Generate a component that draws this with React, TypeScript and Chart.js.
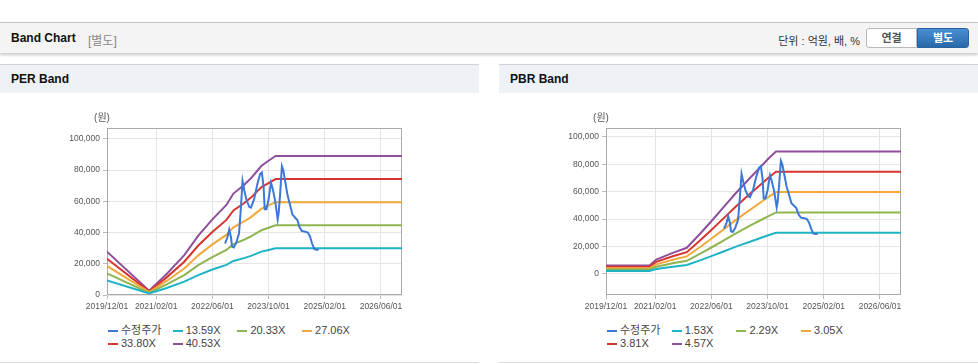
import React, { useEffect, useRef } from 'react';
import { Chart, registerables } from 'chart.js';

Chart.register(...registerables);

// ---- axis ticks (x = months since 2019/12) ----
const xTickMonths = [0, 14, 30, 46, 62, 78];
const xTickLabels = ['2019/12/01', '2021/02/01', '2022/06/01', '2023/10/01', '2025/02/01', '2026/06/01'];
const yTickValues = [0, 20000, 40000, 60000, 80000, 100000];

// ---- 수정주가 (adjusted price) ----
const priceMonths = [33.6, 34.3, 34.8, 35.3, 35.6, 36.1, 36.8, 37.6, 38.1, 38.6, 39.1, 39.7, 40.5, 41.0, 41.9, 42.8, 43.6, 44.1, 44.6, 44.9, 45.4, 46.0, 46.7, 47.2, 47.9, 48.6, 48.9, 49.3, 49.8, 50.2, 50.8, 51.4, 52.2, 52.8, 53.6, 54.2, 54.8, 55.5, 56.5, 57.2, 57.8, 58.4, 59.0, 59.6, 60.3];
const priceValues = [33000, 37000, 42000, 37000, 31000, 30500, 33500, 39500, 55000, 73000, 67000, 61000, 56500, 56000, 61500, 71000, 77500, 78500, 69000, 55000, 55000, 61000, 72000, 68000, 60000, 48500, 53000, 65000, 82500, 80000, 72000, 64000, 57000, 51500, 49500, 48000, 43500, 41000, 40500, 40000, 37500, 33000, 29500, 29000, 29200];

// ---- PER band ----
const perMonths = [0, 12, 17, 22, 26, 30, 34, 36, 39, 41, 44, 46, 48, 84];
const per1359 = [9300, 940, 4500, 8600, 12700, 16300, 19300, 21800, 23600, 25100, 27800, 28800, 29900, 29900];
const per2033 = [13900, 1400, 6800, 12800, 19100, 24300, 28900, 32600, 35400, 37500, 41500, 43100, 44700, 44700];
const per2706 = [18600, 1900, 9000, 17000, 25400, 32400, 38500, 43400, 47100, 49900, 55300, 57400, 59500, 59500];
const per3380 = [23200, 2300, 11300, 21300, 31700, 40400, 48100, 54200, 58800, 62400, 69100, 71700, 74300, 74300];
const per4053 = [27800, 2800, 13500, 25500, 38000, 48500, 57700, 65000, 70500, 74800, 82800, 86000, 89100, 89100];
const perLabels = ['13.59X', '20.33X', '27.06X', '33.80X', '40.53X'];

// ---- PBR band ----
const pbrMonths = [0, 12.4, 14.3, 19, 23, 26.6, 30, 33.3, 37, 41, 44, 46, 48.4, 84];
const pbr153 = [2000, 2000, 3500, 5100, 6400, 9600, 12900, 16100, 19800, 23400, 26100, 28000, 29900, 29900];
const pbr229 = [3100, 3100, 5200, 7700, 9500, 14400, 19200, 24100, 29600, 35100, 39100, 41800, 44800, 44800];
const pbr305 = [4100, 4100, 6900, 10200, 12700, 19200, 25600, 32100, 39400, 46700, 52100, 55700, 59700, 59700];
const pbr381 = [5100, 5100, 8700, 12800, 15800, 23900, 32000, 40100, 49200, 58400, 65000, 69600, 74500, 74500];
const pbr457 = [6100, 6100, 10400, 15300, 19000, 28700, 38400, 48100, 59000, 70000, 78000, 83500, 89400, 89400];
const pbrLabels = ['1.53X', '2.29X', '3.05X', '3.81X', '4.57X'];

const priceLabel = '수정주가';
const colors = ['#3c78d8', '#1fb3c6', '#8fb551', '#f2a93b', '#d7352f', '#8e4f9c'];

const FONT = '"Liberation Sans", Arial, "Noto Sans CJK KR", sans-serif';

const toPoints = (xs: number[], ys: number[]) => xs.map((x, i) => ({ x, y: ys[i] }));

const framePlugin = {
  id: 'frame',
  beforeDatasetsDraw(chart: any) {
    const { ctx, chartArea: a } = chart;
    ctx.save();
    ctx.strokeStyle = '#aaaaaa';
    ctx.lineWidth = 1;
    const l = Math.round(a.left) + 0.5;
    const t = Math.round(a.top) + 0.5;
    const r = Math.round(a.right) - 0.5;
    const b = Math.round(a.bottom) - 0.5;
    ctx.strokeRect(l, t, r - l, b - t);
    ctx.fillStyle = '#555';
    ctx.font = '10px ' + FONT;
    ctx.textAlign = 'center';
    ctx.textBaseline = 'middle';
    ctx.fillText('(원)', 102, 25);
    ctx.restore();
  },
};

type BandProps = {
  title: string;
  months: number[];
  bands: number[][];
  labels: string[];
  yMin: number;
  yMax: number;
  left: number;
};

function BandPanel({ title, months, bands, labels, yMin, yMax, left }: BandProps) {
  const ref = useRef<HTMLCanvasElement | null>(null);

  useEffect(() => {
    if (!ref.current) return;
    const datasets: any[] = [
      {
        label: priceLabel,
        data: toPoints(priceMonths, priceValues),
        borderColor: colors[0],
        backgroundColor: colors[0],
        borderWidth: 2,
      },
      ...bands.map((b, i) => ({
        label: labels[i],
        data: toPoints(months, b),
        borderColor: colors[i + 1],
        backgroundColor: colors[i + 1],
        borderWidth: 2,
      })),
    ];
    const chart = new Chart(ref.current, {
      type: 'line',
      data: { datasets },
      options: {
        animation: false,
        responsive: false,
        maintainAspectRatio: false,
        layout: { padding: { left: 0, right: 77, top: 35, bottom: 0 } },
        elements: { point: { radius: 0 }, line: { tension: 0 } },
        plugins: { legend: { display: false }, tooltip: { enabled: false } },
        scales: {
          x: {
            type: 'linear',
            min: 0,
            max: 84,
            afterBuildTicks: (s: any) => {
              s.ticks = xTickMonths.map((v) => ({ value: v }));
            },
            afterFit: (s: any) => {
              s.height = 28;
            },
            ticks: {
              autoSkip: false,
              maxRotation: 0,
              padding: 3,
              color: '#555',
              font: { size: 8.5, family: FONT },
              callback: (_v: any, i: number) => xTickLabels[i],
            },
            grid: { color: '#e4e4e4', tickLength: 4, tickColor: '#bbbbbb' },
            border: { display: false },
          },
          y: {
            type: 'linear',
            min: yMin,
            max: yMax,
            afterBuildTicks: (s: any) => {
              s.ticks = yTickValues.map((v) => ({ value: v }));
            },
            afterFit: (s: any) => {
              s.width = 107;
            },
            ticks: {
              padding: 3,
              color: '#555',
              font: { size: 8.5, family: FONT },
              callback: (v: any) => Number(v).toLocaleString('en-US'),
            },
            grid: { color: '#e4e4e4', tickLength: 4, tickColor: '#bbbbbb' },
            border: { display: false },
          },
        },
      },
      plugins: [framePlugin],
    });
    return () => chart.destroy();
  }, []);

  const legendItems = [priceLabel, ...labels];

  return (
    <div
      style={{
        position: 'absolute',
        left,
        top: 64,
        width: 479,
        height: 299,
        borderTop: '1px solid #d2d2d2',
        borderBottom: '1px solid #dcdcdc',
        boxSizing: 'border-box',
        background: '#fff',
      }}
    >
      <div
        style={{
          height: 28,
          background: '#eef1f6',
          fontWeight: 'bold',
          fontSize: 12,
          lineHeight: '29px',
          paddingLeft: 11,
          color: '#111',
        }}
      >
        {title}
      </div>
      <canvas
        ref={ref}
        width={479}
        height={230}
        style={{ position: 'absolute', left: 0, top: 28, display: 'block' }}
      />
      <div
        style={{
          position: 'absolute',
          left: 108,
          top: 259,
          width: 280,
          display: 'flex',
          flexWrap: 'wrap',
          fontSize: 11,
          color: '#444',
          fontFamily: FONT,
        }}
      >
        {legendItems.map((name, i) => (
          <div
            key={name}
            style={{ width: 64.7, height: 13, display: 'flex', alignItems: 'center', whiteSpace: 'nowrap' }}
          >
            <span
              style={{ display: 'inline-block', width: 10, height: 2, background: colors[i], marginRight: 3 }}
            />
            <span style={{ lineHeight: '13px' }}>{name}</span>
          </div>
        ))}
      </div>
    </div>
  );
}

export default function App() {
  useEffect(() => {
    document.body.style.margin = '0';
  }, []);
  return (
    <div style={{ position: 'relative', width: 978, height: 364, fontFamily: FONT, background: '#fff', overflow: 'hidden' }}>
      <div
        style={{
          position: 'absolute',
          left: 0,
          top: 22,
          width: 978,
          height: 31,
          boxSizing: 'border-box',
          borderTop: '1px solid #c4c4c4',
          background: '#f4f4f4',
          boxShadow: '0 2px 3px rgba(0,0,0,0.22)',
        }}
      >
        <span style={{ position: 'absolute', left: 11, top: 8, fontSize: 12, fontWeight: 'bold', color: '#111' }}>
          Band Chart
        </span>
        <span style={{ position: 'absolute', left: 88, top: 8, fontSize: 12, color: '#888' }}>[별도]</span>
        <span style={{ position: 'absolute', right: 118, top: 9, fontSize: 11, color: '#333' }}>단위 : 억원, 배, %</span>
        <div
          style={{
            position: 'absolute',
            left: 866,
            top: 5,
            width: 51,
            height: 20,
            boxSizing: 'border-box',
            border: '1px solid #b9b9b9',
            borderRadius: '3px 0 0 3px',
            background: '#fff',
            color: '#555',
            fontWeight: 'bold',
            fontSize: 11,
            textAlign: 'center',
            lineHeight: '18px',
          }}
        >
          연결
        </div>
        <div
          style={{
            position: 'absolute',
            left: 917,
            top: 5,
            width: 52,
            height: 20,
            boxSizing: 'border-box',
            border: '1px solid #2a64a0',
            borderRadius: '0 3px 3px 0',
            background: 'linear-gradient(#4a8fd4, #2a68a8)',
            color: '#fff',
            fontWeight: 'bold',
            fontSize: 11,
            textAlign: 'center',
            lineHeight: '18px',
          }}
        >
          별도
        </div>
      </div>
      <BandPanel
        title="PER Band"
        months={perMonths}
        bands={[per1359, per2033, per2706, per3380, per4053]}
        labels={perLabels}
        yMin={0}
        yMax={107000}
        left={0}
      />
      <BandPanel
        title="PBR Band"
        months={pbrMonths}
        bands={[pbr153, pbr229, pbr305, pbr381, pbr457]}
        labels={pbrLabels}
        yMin={-15500}
        yMax={106500}
        left={499}
      />
    </div>
  );
}
